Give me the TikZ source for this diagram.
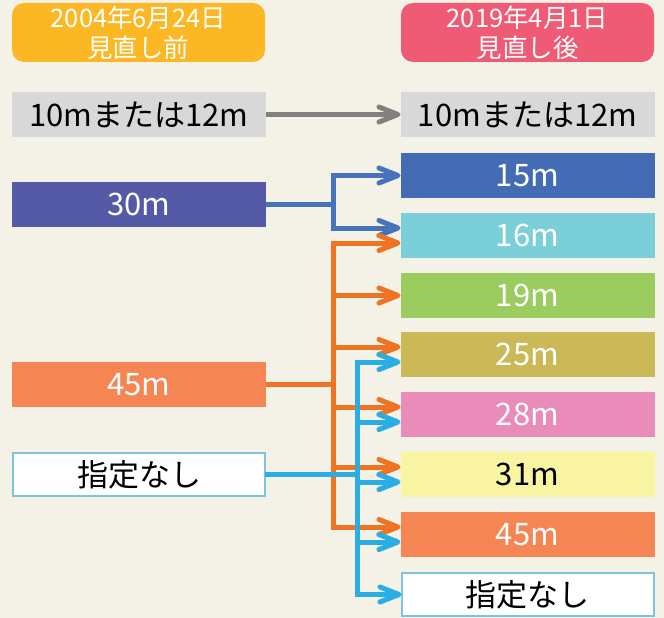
\documentclass[tikz,border=0pt]{standalone}
\usepackage{fontspec}
\setmainfont{Noto Sans CJK JP}
\usetikzlibrary{arrows.meta}
\definecolor{bg}{HTML}{F4F1E7}
\definecolor{hdrL}{HTML}{FBB724}
\definecolor{hdrR}{HTML}{EF5B75}
\definecolor{grbox}{HTML}{D8D8D8}
\definecolor{grline}{HTML}{808080}
\definecolor{c30}{HTML}{545AA6}
\definecolor{c15}{HTML}{436CB5}
\definecolor{c16}{HTML}{7BCFD8}
\definecolor{c19}{HTML}{9ACC5F}
\definecolor{c25}{HTML}{CBB857}
\definecolor{c28}{HTML}{E98CB9}
\definecolor{c31}{HTML}{F8F4A2}
\definecolor{c45}{HTML}{F58552}
\definecolor{nonebd}{HTML}{7EC4E0}
\definecolor{bline}{HTML}{4673B9}
\definecolor{oline}{HTML}{EE7424}
\definecolor{cline}{HTML}{29ADE3}
\tikzset{
  box/.style={rectangle, minimum width=254pt, minimum height=45pt, inner sep=0pt, outer sep=0pt,
    font=\fontsize{31}{31}\selectfont, text=black},
  nbox/.style={box, fill=white, draw=nonebd, line width=2pt, minimum width=252pt, minimum height=43pt},
  hdr/.style={rectangle, rounded corners=12pt, minimum width=253pt, minimum height=59pt, inner sep=0pt,
    align=center, text=white, font=\fontsize{25.5}{30}\selectfont},
  conn/.style={line width=5pt},
  arr/.style={-{Straight Barb[length=19pt,width=15pt,round]}},
  arrboth/.style={{Straight Barb[length=19pt,width=15pt,round]}-{Straight Barb[length=19pt,width=15pt,round]}},
}
\begin{document}
\begin{tikzpicture}[x=1pt,y=-1pt]
\fill[bg] (0,0) rectangle (664,618);
\useasboundingbox (0,0) rectangle (664,618);

% headers
\node[hdr, fill=hdrL] (HL) at (138.5,32.5) {2004年6月24日\\見直し前};
\node[hdr, fill=hdrR] (HR) at (527.5,32.5) {2019年4月1日\\見直し後};

% left column
\node[box, fill=grbox] (L10) at (139,114.5) {10mまたは12m};
\node[box, fill=c30, text=white] (L30) at (139,204.5) {30m};
\node[box, fill=c45, text=white] (L45) at (139,384.5) {45m};
\node[nbox] (Ln) at (139,474.5) {指定なし};

% right column
\node[box, fill=grbox] (R10) at (527.5,114.5) {10mまたは12m};
\node[box, fill=c15, text=white] (R15) at (527.5,175.5) {15m};
\node[box, fill=c16, text=white] (R16) at (527.5,235.5) {16m};
\node[box, fill=c19, text=white] (R19) at (527.5,295.5) {19m};
\node[box, fill=c25, text=white] (R25) at (527.5,354.5) {25m};
\node[box, fill=c28, text=white] (R28) at (527.5,414.5) {28m};
\node[box, fill=c31] (R31) at (527.5,474.5) {31m};
\node[box, fill=c45, text=white] (R45) at (527.5,534.5) {45m};
\node[nbox] (Rn) at (527.5,594.5) {指定なし};

% junction columns
\coordinate (jx) at (333,0);
\coordinate (cx) at (357,0);

% arrival points
\coordinate (R16b) at ([yshift=7.5pt]R16.west);
\coordinate (R16o) at ([yshift=-7.5pt]R16.west);
\coordinate (R25o) at ([yshift=7.5pt]R25.west);
\coordinate (R25c) at ([yshift=-7.5pt]R25.west);
\coordinate (R28o) at ([yshift=7.5pt]R28.west);
\coordinate (R28c) at ([yshift=-7.5pt]R28.west);
\coordinate (R31o) at ([yshift=7.5pt]R31.west);
\coordinate (R31c) at ([yshift=-7.5pt]R31.west);
\coordinate (R45o) at ([yshift=7.5pt]R45.west);
\coordinate (R45c) at ([yshift=-7.5pt]R45.west);

% gray
\draw[conn, grline, arr] (L10.east) -- (R10.west);

% blue (30m)
\draw[conn, bline] (L30.east) -- (jx |- L30.east);
\draw[conn, bline, arrboth] (R15.west) -| (jx |- R16b) -- (R16b);

% orange (45m)
\draw[conn, oline] (L45.east) -- (jx |- L45.east);
\draw[conn, oline, arrboth] (R16o) -| (jx |- R45o) -- (R45o);
\draw[conn, oline, arr] (jx |- R19.west) -- (R19.west);
\draw[conn, oline, arr] (jx |- R25o) -- (R25o);
\draw[conn, oline, arr] (jx |- R28o) -- (R28o);
\draw[conn, oline, arr] (jx |- R31o) -- (R31o);

% cyan (none)
\draw[conn, cline] (Ln.east) -- (cx |- Ln.east);
\draw[conn, cline, arrboth] (R25c) -| (cx |- Rn.west) -- (Rn.west);
\draw[conn, cline, arr] (cx |- R28c) -- (R28c);
\draw[conn, cline, arr] (cx |- R31c) -- (R31c);
\draw[conn, cline, arr] (cx |- R45c) -- (R45c);
\end{tikzpicture}
\end{document}
